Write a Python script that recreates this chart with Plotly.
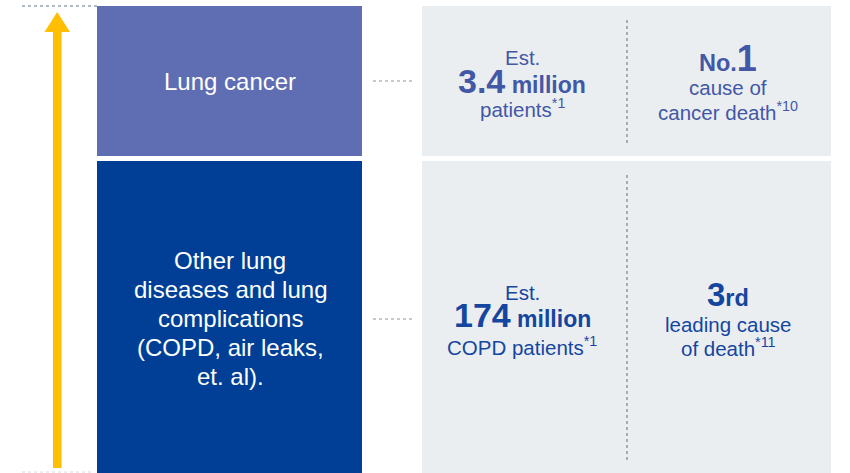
import plotly.graph_objects as go

# ---- data ----
categories = ["Lung cancer", "Other lung<br>diseases and lung<br>complications<br>(COPD, air leaks,<br>et. al)."]
patients_value = ["3.4", "174"]
patients_unit = ["million", "million"]
patients_label = ["patients<sup>*1</sup>", "COPD patients<sup>*1</sup>"]
rank_value = ["1", "3"]
rank_prefix = ["No.", ""]
rank_suffix = ["", "rd"]
rank_label = ["cause of<br>cancer death<sup>*10</sup>", "leading cause<br>of death<sup>*11</sup>"]

# ---- layout geometry (pixel space) ----
W, H = 850, 473
rows = [(6, 156), (161, 473)]
cat_colors = ["#5F6EB3", "#003F95"]
text_colors = ["#4257A6", "#1446A0"]
gray = "#EBEEF1"
FONT = "Liberation Sans, Arial, sans-serif"

fig = go.Figure()
shapes = []
ann = []

# top / bottom dotted guides
shapes.append(dict(type="line", x0=22, x1=97, y0=6, y1=6,
                   line=dict(color="#98A2B0", width=1.5, dash="dot")))
shapes.append(dict(type="line", x0=22, x1=92, y0=472, y1=472,
                   line=dict(color="#D5DAE0", width=1, dash="dot")))

# arrow
arrow_col = "#FFBF00"
shapes.append(dict(type="rect", x0=53, x1=61.5, y0=30, y1=468, fillcolor=arrow_col, line_width=0))
shapes.append(dict(type="path", path="M 44.5 32 L 57.2 12 L 70 32 Z", fillcolor=arrow_col, line_width=0))


def A(x, y, text, size, color, bold=False):
    ann.append(dict(x=x, y=y, text=f"<b>{text}</b>" if bold else text, showarrow=False,
                    font=dict(family=FONT, size=size, color=color), align="center",
                    xanchor="center", yanchor="middle"))


for i, (y0, y1) in enumerate(rows):
    shapes.append(dict(type="rect", x0=97, x1=362, y0=y0, y1=y1, fillcolor=cat_colors[i], line_width=0))
    shapes.append(dict(type="rect", x0=422, x1=831, y0=y0, y1=y1, fillcolor=gray, line_width=0))
    # connector
    cy = 81 if i == 0 else 319
    shapes.append(dict(type="line", x0=373, x1=412, y0=cy, y1=cy,
                       line=dict(color="#8C96A4", width=1, dash="dot")))
    # vertical divider
    shapes.append(dict(type="line", x0=627, x1=627, y0=y0 + 14, y1=y1 - 13,
                       line=dict(color="#8C96A4", width=1.5, dash="dot")))
    # category text, one annotation per line
    lines = categories[i].split("<br>")
    if i == 0:
        ly = [81]
    else:
        ly = [260 + 29.2 * k for k in range(len(lines))]
    for ln, yy in zip(lines, ly):
        A(230, yy, ln, 24, "white")
    tc = text_colors[i]
    # patients cell
    if i == 0:
        ys = (57, 81, 108)
        rys = (58, 87, 111)
    else:
        ys = (292, 315, 346)
        rys = (294, 324, 347)
    A(522, ys[0], "Est.", 20.5, tc)
    A(522, ys[1], f"<span style='font-size:34px'>{patients_value[i]}</span> {patients_unit[i]}", 23, tc, bold=True)
    A(522, ys[2], patients_label[i], 20.5, tc)
    # rank cell
    if i == 0:
        rtxt = f"{rank_prefix[i]}<span style='font-size:36px'>{rank_value[i]}</span>"
    else:
        rtxt = f"<span style='font-size:33px'>{rank_value[i]}</span>{rank_suffix[i]}"
    A(728, rys[0], rtxt, 23.5, tc, bold=True)
    rl = rank_label[i].split("<br>")
    A(728, rys[1], rl[0], 20.5, tc)
    A(728, rys[2], rl[1], 20.5, tc)

fig.update_layout(
    width=W, height=H, margin=dict(l=0, r=0, t=0, b=0, pad=0),
    paper_bgcolor="white", plot_bgcolor="white",
    xaxis=dict(range=[0, W], visible=False, fixedrange=True),
    yaxis=dict(range=[H, 0], visible=False, fixedrange=True),
    shapes=shapes, annotations=ann, showlegend=False,
)
fig.write_html("out.html", config={"displayModeBar": False},
               post_script="document.body.style.margin='0px';document.body.style.overflow='hidden';")
